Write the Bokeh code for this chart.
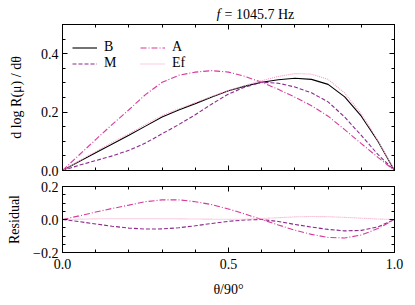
from bokeh.plotting import figure
from bokeh.models import FixedTicker, LinearAxis, Legend, LegendItem, Label, Range1d
from bokeh.layouts import column
from bokeh.embed import file_html
from bokeh.resources import INLINE

theta = [0.0, 0.05, 0.1, 0.15, 0.2, 0.25, 0.3, 0.35, 0.4, 0.45, 0.5,
         0.55, 0.6, 0.65, 0.7, 0.75, 0.8, 0.85, 0.9, 0.95, 1.0]
B = [0, 0.031, 0.061, 0.091, 0.121, 0.152, 0.183, 0.207, 0.229, 0.252, 0.273,
     0.289, 0.302, 0.311, 0.316, 0.312, 0.295, 0.252, 0.186, 0.100, 0]
M = [0, 0.018, 0.034, 0.050, 0.069, 0.094, 0.126, 0.157, 0.191, 0.228, 0.262,
     0.286, 0.302, 0.299, 0.286, 0.266, 0.235, 0.183, 0.120, 0.055, 0]
A = [0, 0.053, 0.106, 0.158, 0.208, 0.260, 0.302, 0.326, 0.337, 0.342, 0.337,
     0.322, 0.302, 0.278, 0.251, 0.222, 0.186, 0.140, 0.092, 0.045, 0]
Ef = [0, 0.033, 0.065, 0.096, 0.126, 0.157, 0.188, 0.211, 0.232, 0.254, 0.274,
      0.291, 0.308, 0.322, 0.332, 0.330, 0.312, 0.265, 0.194, 0.103, 0]
res_M = [0, -0.013, -0.027, -0.041, -0.052, -0.058, -0.057, -0.050, -0.038, -0.024, -0.011,
         -0.003, 0.0, -0.012, -0.030, -0.046, -0.060, -0.069, -0.066, -0.045, 0]
res_A = [0, 0.022, 0.045, 0.067, 0.087, 0.108, 0.119, 0.119, 0.108, 0.090, 0.064,
         0.033, 0.0, -0.033, -0.065, -0.090, -0.109, -0.112, -0.094, -0.055, 0]
res_Ef = [0, 0.002, 0.004, 0.005, 0.005, 0.005, 0.005, 0.004, 0.003, 0.002, 0.001,
          0.002, 0.006, 0.011, 0.016, 0.018, 0.017, 0.013, 0.008, 0.003, 0]

x_major = [0.0, 0.5, 1.0]
x_minor = [i / 10 for i in range(11)]
top_major = [0.0, 0.2, 0.4]
top_minor = [i * 0.05 for i in range(11)]
bot_major = [-0.2, 0.0, 0.2]
bot_minor = [-0.2 + i * 0.05 for i in range(9)]

FONT = "Liberation Serif"
FS = "14px"
C_B = "#000000"
C_M = "#8b2a8c"
C_A = "#d8399a"
C_E = "#f49cc6"
LEFT = 62
RIGHT = 14


def style_axis(ax, major, minor, labels=True):
    ax.ticker = FixedTicker(ticks=major, minor_ticks=minor)
    ax.major_tick_in = 5
    ax.major_tick_out = 0
    ax.minor_tick_in = 3
    ax.minor_tick_out = 0
    ax.axis_line_color = "black"
    ax.major_tick_line_color = "black"
    ax.minor_tick_line_color = "black"
    ax.major_label_text_font = FONT
    ax.major_label_text_font_size = FS
    ax.major_label_text_color = "black"
    ax.axis_label_text_font = FONT
    ax.axis_label_text_font_size = FS
    ax.axis_label_text_font_style = "normal"
    ax.axis_label_text_color = "black"
    ax.major_label_standoff = 4
    if not labels:
        ax.major_label_text_color = None
        ax.major_label_standoff = 0


# thin title strip
p0 = figure(width=LEFT + 332 + RIGHT, height=21, output_backend="svg", toolbar_location=None,
            x_range=Range1d(0, 1), y_range=Range1d(0, 1),
            x_axis_location=None, y_axis_location=None,
            min_border_left=LEFT, min_border_right=RIGHT, min_border_top=0, min_border_bottom=0)
p0.grid.visible = False
p0.outline_line_color = None
p0.add_layout(Label(x=0.5, y=0.34, x_offset=-8, text="f", text_font=FONT, text_color="black",
                    text_font_size=FS, text_font_style="italic", text_align="right",
                    text_baseline="middle"))
p0.add_layout(Label(x=0.5, y=0.34, x_offset=-4, text="= 1045.7 Hz", text_font=FONT,
                    text_color="black", text_font_size=FS, text_align="left",
                    text_baseline="middle"))

p1 = figure(frame_width=332, frame_height=146, output_backend="svg", toolbar_location=None,
            x_range=Range1d(0, 1), y_range=Range1d(0, 0.5),
            min_border_left=LEFT, min_border_right=RIGHT, min_border_top=3, min_border_bottom=8)
p2 = figure(frame_width=332, frame_height=66, output_backend="svg", toolbar_location=None,
            x_range=p1.x_range, y_range=Range1d(-0.2, 0.2),
            min_border_left=LEFT, min_border_right=RIGHT, min_border_top=8, min_border_bottom=36)

for p in (p1, p2):
    p.grid.visible = False
    p.outline_line_color = "black"
    p.background_fill_color = "white"
    p.border_fill_color = "white"

# top panel axes
style_axis(p1.xaxis[0], x_major, x_minor, labels=False)
style_axis(p1.yaxis[0], top_major, top_minor)
p1.yaxis[0].axis_label = "d log R(μ) / dθ"
p1.yaxis[0].axis_label_standoff = 14
p1.yaxis[0].major_label_overrides = {0: "0.0", 0.2: "0.2", 0.4: "0.4"}
ax = LinearAxis(); style_axis(ax, top_major, top_minor, labels=False); p1.add_layout(ax, "right")
ax = LinearAxis(); style_axis(ax, x_major, x_minor, labels=False); p1.add_layout(ax, "above")

# bottom panel axes
style_axis(p2.xaxis[0], x_major, x_minor)
p2.xaxis[0].major_label_overrides = {0: "0.0", 0.5: "0.5", 1: "1.0"}
p2.xaxis[0].major_label_standoff = 6
p2.xaxis[0].axis_label = "θ/90°"
p2.xaxis[0].axis_label_standoff = 10
style_axis(p2.yaxis[0], bot_major, bot_minor)
p2.yaxis[0].axis_label = "Residual"
p2.yaxis[0].axis_label_standoff = 8
p2.yaxis[0].major_label_overrides = {-0.2: "\u22120.2", 0: "0.0", 0.2: "0.2"}
ax = LinearAxis(); style_axis(ax, bot_major, bot_minor, labels=False); p2.add_layout(ax, "right")
ax = LinearAxis(); style_axis(ax, x_major, x_minor, labels=False); p2.add_layout(ax, "above")

W = 1.1
rB = p1.line(theta, B, line_color=C_B, line_width=W)
rM = p1.line(theta, M, line_color=C_M, line_width=W, line_dash="4 2")
rA = p1.line(theta, A, line_color=C_A, line_width=W, line_dash="6 2 1 2")
rE = p1.line(theta, Ef, line_color=C_E, line_width=W, line_dash="1 1")

p2.line(theta, res_M, line_color=C_M, line_width=W, line_dash="4 2")
p2.line(theta, res_A, line_color=C_A, line_width=W, line_dash="6 2 1 2")
p2.line(theta, res_Ef, line_color=C_E, line_width=W, line_dash="1 1")


def make_legend(items, loc):
    lg = Legend(items=items, location=loc, margin=0, padding=0, spacing=0,
                border_line_color=None, background_fill_alpha=0,
                glyph_width=25, glyph_height=15, label_height=15, label_standoff=7,
                label_text_font=FONT, label_text_font_size=FS, label_text_color="black")
    p1.add_layout(lg, "center")


make_legend([LegendItem(label="B", renderers=[rB]), LegendItem(label="M", renderers=[rM])], (10, 99))
make_legend([LegendItem(label="A", renderers=[rA]), LegendItem(label="Ef", renderers=[rE])], (78, 99))

layout = column(p0, p1, p2, spacing=0)
open("out.html", "w").write(file_html(layout, INLINE))
